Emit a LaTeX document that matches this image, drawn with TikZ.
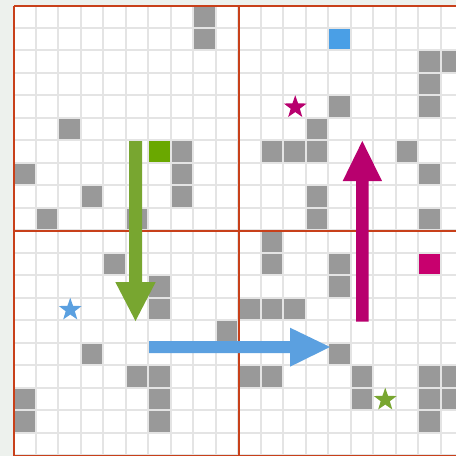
\documentclass[tikz,border=0pt]{standalone}
\usetikzlibrary{shapes.geometric}
\definecolor{bgout}{HTML}{EDF1ED}
\definecolor{gridc}{HTML}{E4E4E4}
\definecolor{cellgray}{HTML}{999999}
\definecolor{redl}{HTML}{C8401A}
\definecolor{greena}{HTML}{78A630}
\definecolor{greenc}{HTML}{6AA800}
\definecolor{bluea}{HTML}{5BA0E0}
\definecolor{bluec}{HTML}{4A9FE6}
\definecolor{maga}{HTML}{B8006E}
\definecolor{magc}{HTML}{C8006E}
\tikzset{
  mystar/.style={star, star points=5, star point ratio=2.5, minimum size=24pt, inner sep=0pt, draw=none, fill=#1},
  redline/.style={draw=redl, line width=1.4pt},
}
\newcommand{\cellat}[3]{\fill[#1] ({14+22.5*#2+0.3},{6+22.5*#3+0.3}) rectangle +(20.2,20.2);}
\begin{document}
\begin{tikzpicture}[x=1pt,y=-1pt]
\useasboundingbox (0,0) rectangle (456,456);
\clip (0,0) rectangle (456,456);
\fill[bgout] (0,0) rectangle (456,456);
\fill[gridc] (14,6) rectangle (464,456);
\foreach \c in {0,...,19}{
  \foreach \r in {0,...,19}{
    \cellat{white}{\c}{\r}
  }
}
\foreach \c/\r in {8/0,8/1,2/5,7/6,7/7,7/8,0/7,3/8,1/9,5/9,18/2,19/2,18/3,18/4,14/4,13/5,11/6,12/6,13/6,17/6,18/7,13/8,13/9,18/9,11/10,11/11,4/11,6/12,6/13,9/14,3/15,5/16,6/16,0/17,6/17,0/18,6/18,14/11,14/12,10/13,11/13,12/13,14/15,10/16,11/16,15/16,18/16,19/16,15/17,18/17,19/17,18/18}{
  \cellat{cellgray}{\c}{\r}
}
\cellat{greenc}{6}{6}
\cellat{bluec}{14}{1}
\cellat{magc}{18}{11}
% red quadrant lines
\draw[redline] (14,6) -- (464,6);
\draw[redline] (14,231) -- (464,231);
\draw[redline] (14,456) -- (464,456);
\draw[redline] (14,6) -- (14,456);
\draw[redline] (239,6) -- (239,456);
% stars
\node[mystar=maga] (smag) at (295.25,107.25) {};
\node[mystar=bluea] (sblue) at (70.25,309.75) {};
\node[mystar=greena] (sgreen) at (385.25,399.75) {};
% arrows
\fill[greena] (129,141) -- (142,141) -- (142,282) -- (155.7,282) -- (135.5,321) -- (115.3,282) -- (129,282) -- cycle;
\fill[bluea] (149,341) -- (290,341) -- (290,327.7) -- (330,347) -- (290,366.7) -- (290,353) -- (149,353) -- cycle;
\fill[maga] (356,321.7) -- (356,181) -- (342.7,181) -- (362.3,141) -- (382,181) -- (368.7,181) -- (368.7,321.7) -- cycle;
\end{tikzpicture}
\end{document}
